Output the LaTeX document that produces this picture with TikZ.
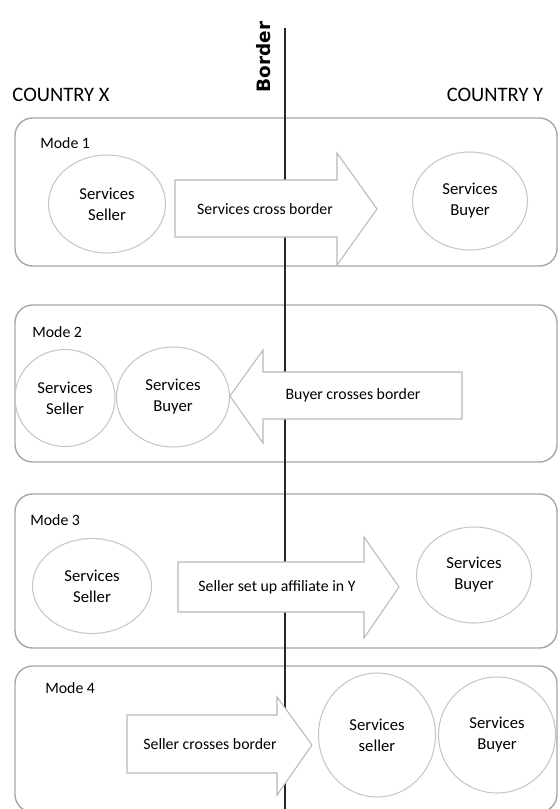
\documentclass[tikz,border=0pt]{standalone}
\usepackage{fontspec}
\setmainfont{Carlito}
\newfontfamily\borderfont{DejaVu Sans}
\usetikzlibrary{shapes.geometric}

\begin{document}
\begin{tikzpicture}[
  x=0.02cm, y=-0.02cm,
  every node/.style={font=\fontsize{9}{11}\selectfont, inner sep=0pt},
  modebox/.style={draw=gray!70, line width=0.8pt, rounded corners=10},
  partycircle/.style={ellipse, draw=gray!45, line width=0.6pt, align=center,
    font=\fontsize{9.5}{12}\selectfont},
  arrowshape/.style={draw=gray!55, fill=white, line width=0.6pt},
  modelabel/.style={anchor=west},
  countrylabel/.style={font=\fontsize{11.7}{14}\selectfont},
  borderline/.style={line width=1.6pt, black!85},
]
\useasboundingbox (0,0) rectangle (559,809);

% Country headings and the border
\node[countrylabel] (cx) at (61,95) {COUNTRY X};
\node[countrylabel] (cy) at (495,95) {COUNTRY Y};
\node[rotate=90, font=\borderfont\bfseries\fontsize{10.5}{12}\selectfont] (blabel) at (264,57) {Border};

% Mode boxes: {index}{top}{bottom}{label x}{label y}
\foreach \n/\top/\bot/\lx/\ly in {1/118/266/40/143, 2/305/462/32/332, 3/494/648/30/520, 4/666/812/45/688} {
  \draw[modebox] (15,\top) rectangle (557,\bot);
  \node[modelabel] (mode\n) at (\lx,\ly) {Mode \n};
}

% Border line (behind the arrows)
\coordinate (btop) at (285,28);
\coordinate (bbot) at (285,809);
\draw[borderline] (btop) -- (bbot);

% Arrows
\draw[arrowshape] (175,180) -- (337,180) -- (337,153) -- (377,209) -- (337,265) -- (337,237) -- (175,237) -- cycle;
\node (arr1) at (265,209) {Services cross border};
\draw[arrowshape] (462,372) -- (263,372) -- (263,350) -- (230,396) -- (263,443) -- (263,419) -- (462,419) -- cycle;
\node (arr2) at (353,395) {Buyer crosses border};
\draw[arrowshape] (178,562) -- (364,562) -- (364,537) -- (399,587) -- (364,638) -- (364,612) -- (178,612) -- cycle;
\node (arr3) at (277,587) {Seller set up affiliate in Y};
\draw[arrowshape] (127,715) -- (277,715) -- (277,697) -- (312,745) -- (277,795) -- (277,773) -- (127,773) -- cycle;
\node (arr4) at (210,744) {Seller crosses border};

% Sellers and buyers: {name}{x}{y}{width}{height}{text}
\foreach \nm/\cx/\cy/\w/\h/\txt in {
  sell1/107/204/117/98/{Services\\Seller},
  buy1/470/201/115/98/{Services\\Buyer},
  sell2/65/398/100/97/{Services\\Seller},
  buy2/173/397/113/100/{Services\\Buyer},
  sell3/92/586/119/95/{Services\\Seller},
  buy3/474/575/115/96/{Services\\Buyer},
  sell4/377/735/117/124/{Services\\seller},
  buy4/497/735/117/116/{Services\\Buyer}%
} {
  \node[partycircle, minimum width=\w*0.02cm, minimum height=\h*0.02cm] (\nm) at (\cx,\cy) {\txt};
}

\end{tikzpicture}
\end{document}
